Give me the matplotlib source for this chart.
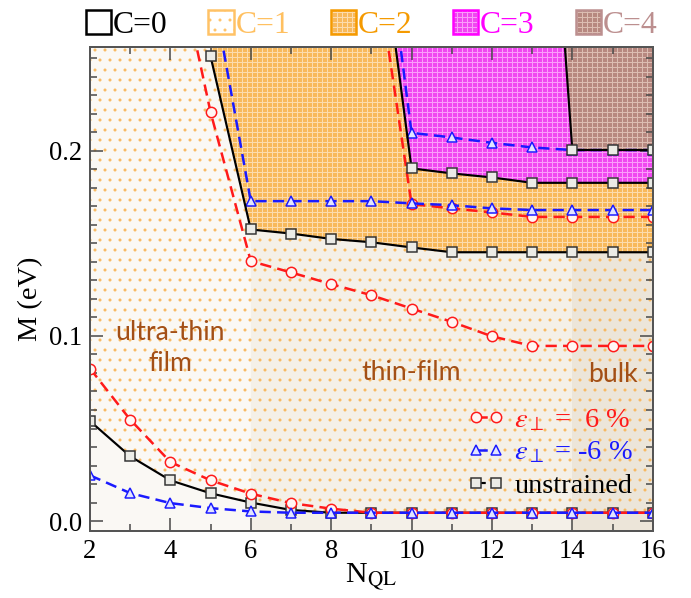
import numpy as np
import matplotlib
matplotlib.use("Agg")
import matplotlib.pyplot as plt
from matplotlib.patches import Patch
from matplotlib.lines import Line2D
from matplotlib.legend_handler import HandlerTuple
from matplotlib.ticker import MultipleLocator, FormatStrFormatter

# ---------------- data ----------------
N = [2, 3, 4, 5, 6, 7, 8, 9, 10, 11, 12, 13, 14, 15, 16]

# unstrained (black squares) : phase boundaries
unstr_c01 = [0.054, 0.035, 0.022, 0.015, 0.010, 0.006, 0.0045, 0.0045, 0.0045,
             0.0045, 0.0045, 0.0045, 0.0045, 0.0045, 0.0045]
N_c12 = [5, 6, 7, 8, 9, 10, 11, 12, 13, 14, 15, 16]
unstr_c12 = [0.251, 0.1575, 0.1553, 0.1524, 0.1506, 0.1478, 0.1452, 0.1452,
             0.1452, 0.1452, 0.1452, 0.1452]
N_c23 = [9, 10, 11, 12, 13, 14, 15, 16]
unstr_c23 = [0.356, 0.1905, 0.1878, 0.1856, 0.1827, 0.1827, 0.1827, 0.1827]
N_c34 = [13, 14, 15, 16]
unstr_c34 = [0.502, 0.2004, 0.2004, 0.2004]

# eps_perp = +6 % (red circles)
pos_c01 = [0.0824, 0.0548, 0.0319, 0.022, 0.0148, 0.0097, 0.0067, 0.0045, 0.0045,
           0.0045, 0.0045, 0.0045, 0.0045, 0.0045, 0.0045]
N_pos_c12 = [4, 5, 6, 7, 8, 9, 10, 11, 12, 13, 14, 15, 16]
pos_c12 = [0.322, 0.2208, 0.1404, 0.1343, 0.128, 0.122, 0.1148, 0.1076, 0.0998,
           0.0946, 0.0946, 0.0946, 0.0946]
N_pos_c23 = [9, 10, 11, 12, 13, 14, 15, 16]
pos_c23 = [0.317, 0.1712, 0.1689, 0.1667, 0.1643, 0.1643, 0.1643, 0.1643]

# eps_perp = -6 % (blue triangles)
neg_c01 = [0.0247, 0.0151, 0.0097, 0.007, 0.0052, 0.0045, 0.0045, 0.0045, 0.0045,
           0.0045, 0.0045, 0.0045, 0.0045, 0.0045, 0.0045]
N_neg_c12 = [5, 6, 7, 8, 9, 10, 11, 12, 13, 14, 15, 16]
neg_c12 = [0.293, 0.1728, 0.1728, 0.1728, 0.1728, 0.1716, 0.1706, 0.1689, 0.168,
           0.168, 0.168, 0.168]
N_neg_c23 = [9, 10, 11, 12, 13, 14, 15, 16]
neg_c23 = [0.379, 0.2097, 0.2072, 0.2043, 0.2018, 0.2004, 0.2004, 0.2004]

regime_edges = [2, 6, 14, 16]
regime_names = ["ultra-thin\nfilm", "thin-film", "bulk"]
phase_labels = ["C=0", "C=1", "C=2", "C=3", "C=4"]
series_labels = [r"$\varepsilon_{\perp}$ =  6 %", r"$\varepsilon_{\perp}$ = -6 %", "unstrained"]

# ---------------- style ----------------
DPI = 120
plt.rcParams["hatch.linewidth"] = 0.6
plt.rcParams["font.family"] = ["Liberation Serif", "DejaVu Serif"]
plt.rcParams["mathtext.fontset"] = "stix"

band_cols = ["#faf8f4", "#f4f0e8", "#ece5d9"]
C1_DOT = "#f8b85e"
C2_FACE, C2_HATCH, C2_EDGE = "#f8b95c", "#fcdcae", "#f59a00"
C3_FACE, C3_HATCH, C3_EDGE = "#f048f0", "#fb9cfb", "#ff00ff"
C4_FACE, C4_HATCH, C4_EDGE = "#b78880", "#dcbdb3", "#bc8f8f"
RED, BLUE, BLACK = "#ff1a1a", "#1a1aff", "black"
BROWN = "#a34f16"
TOP = 1.0

fig = plt.figure(figsize=(691 / DPI, 598 / DPI), dpi=DPI)
ax = fig.add_axes([90 / 691, 1 - 530.7 / 598, 562.7 / 691, 483.4 / 598])
ax.set_xlim(2, 16)
ax.set_ylim(-0.0052, 0.2559)

# regime bands
for i in range(3):
    ax.axvspan(regime_edges[i], regime_edges[i + 1], color=band_cols[i], lw=0, zorder=0)

Na = np.array(N, float)
# C=1 region
x1 = np.concatenate([Na, np.array(N_c12)[::-1], [N_c12[0], N[0]]])
y1 = np.concatenate([unstr_c01, np.array(unstr_c12)[::-1], [TOP, TOP]])
ax.fill(x1, y1, facecolor="none", edgecolor=C1_DOT, hatch="..", lw=0, zorder=1)
# C=2 region
x2 = np.concatenate([N_c12, np.array(N_c23)[::-1], [N_c12[0]]])
y2 = np.concatenate([unstr_c12, np.array(unstr_c23)[::-1], [TOP]])
ax.fill(x2, y2, facecolor=C2_FACE, edgecolor=C2_HATCH, hatch="++++", lw=0, zorder=1)
# C=3 region
x3 = np.concatenate([N_c23, np.array(N_c34)[::-1]])
y3 = np.concatenate([unstr_c23, np.array(unstr_c34)[::-1]])
ax.fill(x3, y3, facecolor=C3_FACE, edgecolor=C3_HATCH, hatch="++++", lw=0, zorder=1)
# C=4 region
x4 = np.concatenate([N_c34, [N_c34[-1], N_c34[0]]])
y4 = np.concatenate([unstr_c34, [TOP, TOP]])
ax.fill(x4, y4, facecolor=C4_FACE, edgecolor=C4_HATCH, hatch="++++", lw=0, zorder=1)

# lines
sq = dict(color=BLACK, lw=1.3, marker="s", ms=5.6, mfc="#ebebe6", mec="#333333", mew=0.9)
ci = dict(color=RED, lw=1.5, ls=(0, (4.5, 2.5)), marker="o", ms=6.2, mfc="#fff6f4", mec=RED, mew=0.9)
tr = dict(color=BLUE, lw=1.5, ls=(0, (4.5, 2.5)), marker="^", ms=6.2, mfc="#e2e4ff", mec=BLUE, mew=0.9)

ax.plot(N, unstr_c01, zorder=3, **sq)
ax.plot(N, pos_c01, zorder=4, **ci)
ax.plot(N, neg_c01, zorder=5, **tr)
ax.plot(N_pos_c12, pos_c12, zorder=4, **ci)
ax.plot(N_pos_c23, pos_c23, zorder=4, **ci)
ax.plot(N_neg_c12, neg_c12, zorder=5, **tr)
ax.plot(N_neg_c23, neg_c23, zorder=5, **tr)
ax.plot(N_c12, unstr_c12, zorder=6, **sq)
ax.plot(N_c23, unstr_c23, zorder=6, **sq)
ax.plot(N_c34, unstr_c34, zorder=6, **sq)

# regime labels
tkw = dict(family=["Lato", "DejaVu Sans"], fontsize=16, color=BROWN, zorder=7)
ax.text(4.0, 0.0811, regime_names[0], ha="center", va="baseline", linespacing=1.3, **tkw)
ax.text(9.99, 0.076, regime_names[1], ha="center", va="baseline", **tkw)
ax.text(15.01, 0.0751, regime_names[2], ha="center", va="baseline", **tkw)

# axes styling
for s in ax.spines.values():
    s.set_linewidth(1.2)
    s.set_color("#555555")
    s.set_zorder(8)
ax.xaxis.set_major_locator(MultipleLocator(2))
ax.xaxis.set_minor_locator(MultipleLocator(1))
ax.yaxis.set_major_locator(MultipleLocator(0.1))
ax.yaxis.set_minor_locator(MultipleLocator(0.01))
ax.yaxis.set_major_formatter(FormatStrFormatter("%.1f"))
ax.tick_params(which="both", direction="in", top=True, right=True, color="#444444", width=0.9)
ax.tick_params(which="major", length=7.8, labelsize=16, pad=5)
ax.tick_params(which="minor", length=4.2)
ax.set_xlabel(r"N$_{\mathrm{QL}}$", fontsize=18, labelpad=-1)
ax.set_ylabel("M (eV)", fontsize=17)
ax.yaxis.label.set_va("center")
ax.yaxis.set_label_coords(-0.105, 0.48)

# series legend (lower right)
h_red = Line2D([], [], **ci)
h_blue = Line2D([], [], **tr)
h_blk = Line2D([], [], **dict(sq, ls=(0, (4.5, 2.5))))
leg = ax.legend([h_red, h_blue, h_blk], series_labels, loc="lower right",
                bbox_to_anchor=(0.965, 0.066), frameon=False, fontsize=17, numpoints=2,
                handlelength=1.3, handletextpad=0.35, labelspacing=0.25, borderpad=0,
                borderaxespad=0, labelcolor=[RED, BLUE, BLACK])
leg.set_zorder(9)

# phase legend (top)
p0 = Patch(facecolor="white", edgecolor="black", lw=1.5)
p1 = Patch(facecolor="white", edgecolor="#ffc266", hatch="..", lw=1.5)
p2 = (Patch(facecolor=C2_FACE, edgecolor=C2_HATCH, hatch="++++", lw=0),
      Patch(facecolor="none", edgecolor=C2_EDGE, lw=1.5))
p3 = (Patch(facecolor=C3_FACE, edgecolor=C3_HATCH, hatch="++++", lw=0),
      Patch(facecolor="none", edgecolor=C3_EDGE, lw=1.5))
p4 = (Patch(facecolor=C4_FACE, edgecolor=C4_HATCH, hatch="++++", lw=0),
      Patch(facecolor="none", edgecolor=C4_EDGE, lw=1.5))
fig.legend([p0, p1, p2, p3, p4], phase_labels, loc="center",
           bbox_to_anchor=(371.5 / 691, 1 - 25 / 598), ncol=5, frameon=False,
           fontsize=19, handlelength=0.8, handleheight=0.8, handletextpad=0.05,
           columnspacing=1.29, borderpad=0,
           labelcolor=["black", "#ffc060", "#f59a00", "#ff00ff", "#bc8f8f"],
           handler_map={tuple: HandlerTuple(ndivide=1, pad=0)})

fig.savefig("out.png", dpi=DPI)
